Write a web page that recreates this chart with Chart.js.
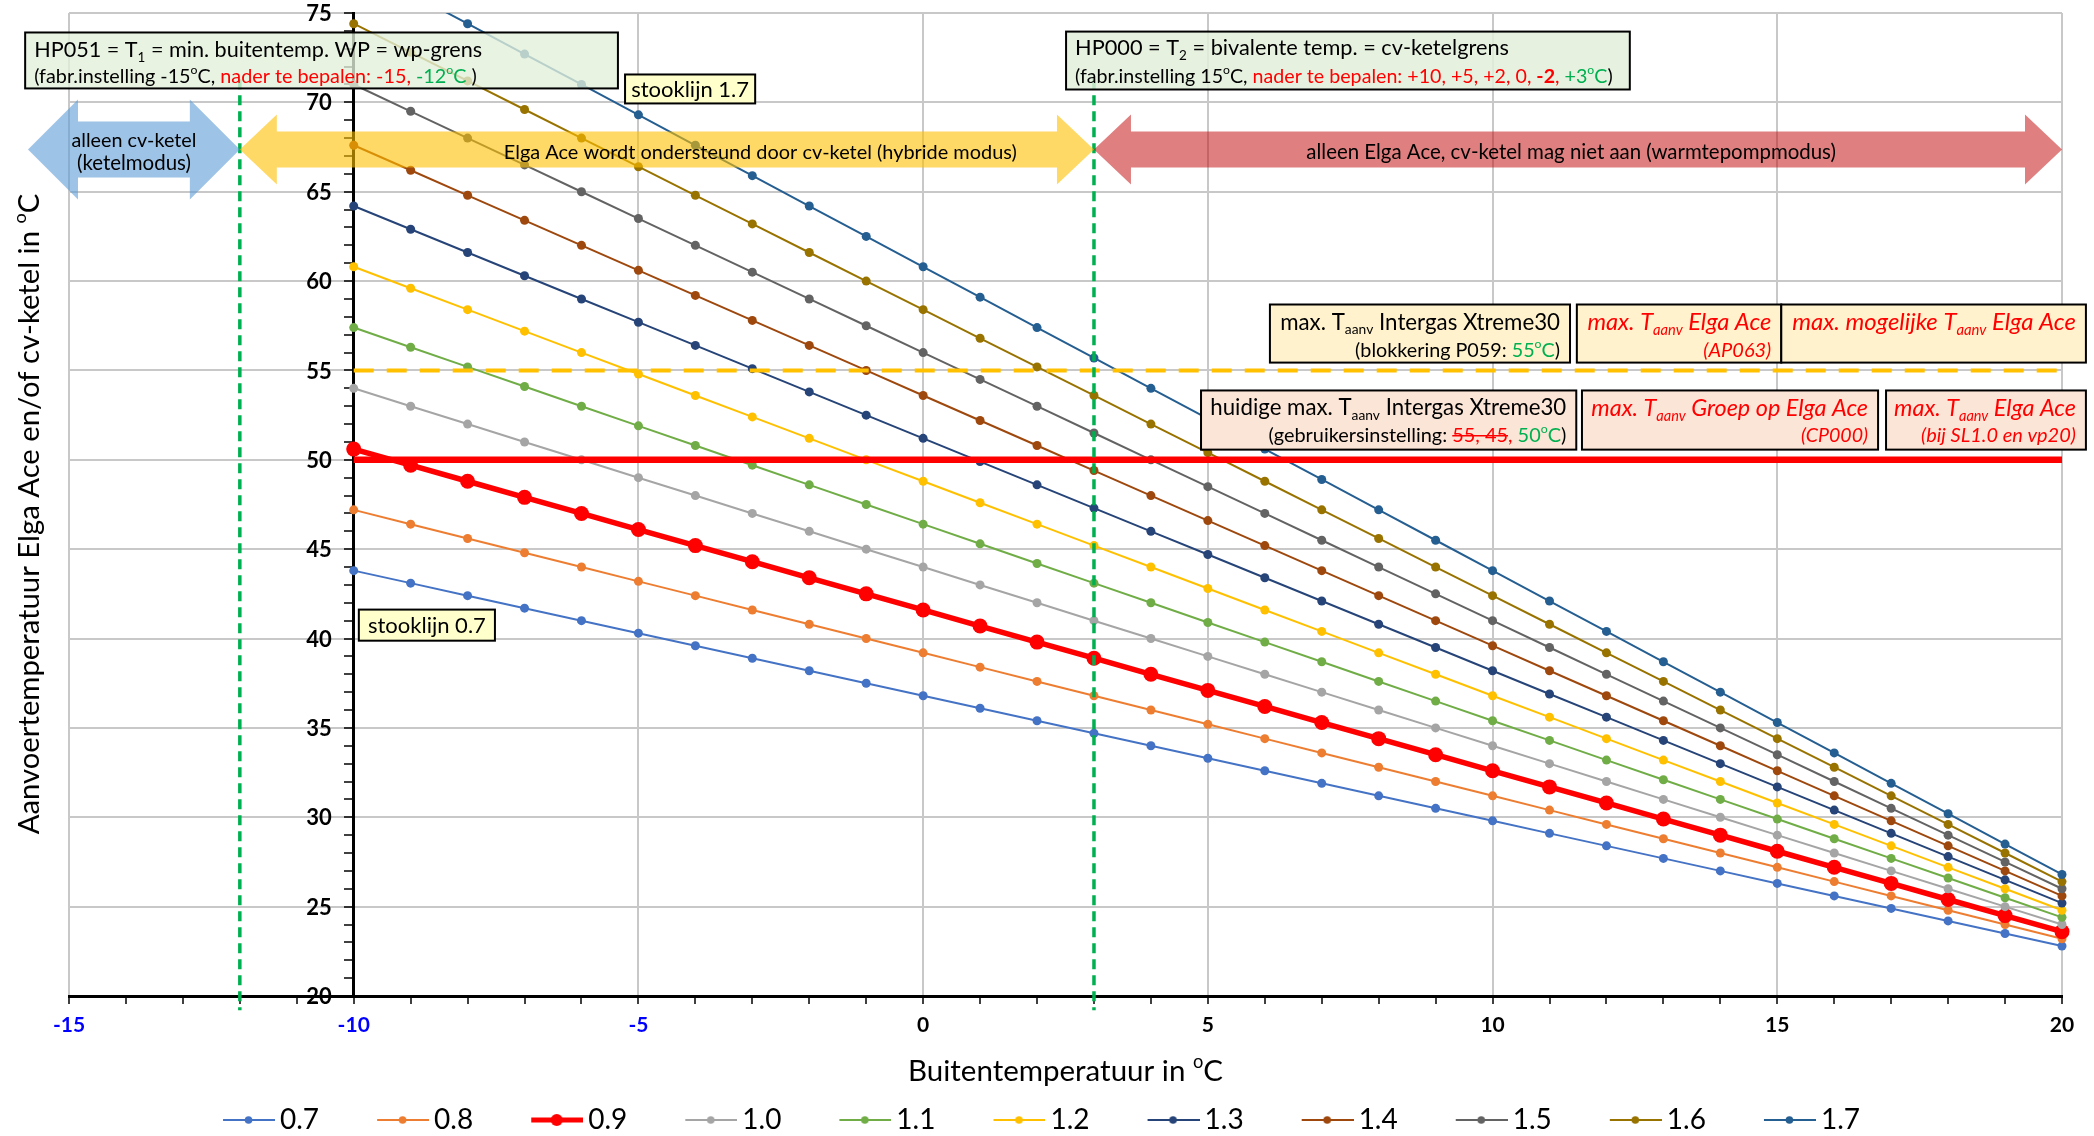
<!DOCTYPE html>
<html lang="nl">
<head>
<meta charset="utf-8">
<title>Stooklijnen Elga Ace</title>
<script src="https://cdn.jsdelivr.net/npm/chart.js@4.4.1/dist/chart.umd.min.js"></script>
<style>
  html, body { margin: 0; padding: 0; background: #fff; }
  canvas { display: block; }
</style>
</head>
<body>
<canvas id="stooklijnen" width="2094" height="1136"></canvas>
<script>
// buitentemperatuur (x-as) en aanvoertemperatuur per stooklijn
const outdoorTemp = [-10, -9, -8, -7, -6, -5, -4, -3, -2, -1, 0, 1, 2, 3, 4, 5, 6, 7, 8, 9, 10, 11, 12, 13, 14, 15, 16, 17, 18, 19, 20];
const curveLabels = ['0.7', '0.8', '0.9', '1.0', '1.1', '1.2', '1.3', '1.4', '1.5', '1.6', '1.7'];

const sl07 = [43.8, 43.1, 42.4, 41.7, 41.0, 40.3, 39.6, 38.9, 38.2, 37.5, 36.8, 36.1, 35.4, 34.7, 34.0, 33.3, 32.6, 31.9, 31.2, 30.5, 29.8, 29.1, 28.4, 27.7, 27.0, 26.3, 25.6, 24.9, 24.2, 23.5, 22.8];
const sl08 = [47.2, 46.4, 45.6, 44.8, 44.0, 43.2, 42.4, 41.6, 40.8, 40.0, 39.2, 38.4, 37.6, 36.8, 36.0, 35.2, 34.4, 33.6, 32.8, 32.0, 31.2, 30.4, 29.6, 28.8, 28.0, 27.2, 26.4, 25.6, 24.8, 24.0, 23.2];
const sl09 = [50.6, 49.7, 48.8, 47.9, 47.0, 46.1, 45.2, 44.3, 43.4, 42.5, 41.6, 40.7, 39.8, 38.9, 38.0, 37.1, 36.2, 35.3, 34.4, 33.5, 32.6, 31.7, 30.8, 29.9, 29.0, 28.1, 27.2, 26.3, 25.4, 24.5, 23.6];
const sl10 = [54.0, 53.0, 52.0, 51.0, 50.0, 49.0, 48.0, 47.0, 46.0, 45.0, 44.0, 43.0, 42.0, 41.0, 40.0, 39.0, 38.0, 37.0, 36.0, 35.0, 34.0, 33.0, 32.0, 31.0, 30.0, 29.0, 28.0, 27.0, 26.0, 25.0, 24.0];
const sl11 = [57.4, 56.3, 55.2, 54.1, 53.0, 51.9, 50.8, 49.7, 48.6, 47.5, 46.4, 45.3, 44.2, 43.1, 42.0, 40.9, 39.8, 38.7, 37.6, 36.5, 35.4, 34.3, 33.2, 32.1, 31.0, 29.9, 28.8, 27.7, 26.6, 25.5, 24.4];
const sl12 = [60.8, 59.6, 58.4, 57.2, 56.0, 54.8, 53.6, 52.4, 51.2, 50.0, 48.8, 47.6, 46.4, 45.2, 44.0, 42.8, 41.6, 40.4, 39.2, 38.0, 36.8, 35.6, 34.4, 33.2, 32.0, 30.8, 29.6, 28.4, 27.2, 26.0, 24.8];
const sl13 = [64.2, 62.9, 61.6, 60.3, 59.0, 57.7, 56.4, 55.1, 53.8, 52.5, 51.2, 49.9, 48.6, 47.3, 46.0, 44.7, 43.4, 42.1, 40.8, 39.5, 38.2, 36.9, 35.6, 34.3, 33.0, 31.7, 30.4, 29.1, 27.8, 26.5, 25.2];
const sl14 = [67.6, 66.2, 64.8, 63.4, 62.0, 60.6, 59.2, 57.8, 56.4, 55.0, 53.6, 52.2, 50.8, 49.4, 48.0, 46.6, 45.2, 43.8, 42.4, 41.0, 39.6, 38.2, 36.8, 35.4, 34.0, 32.6, 31.2, 29.8, 28.4, 27.0, 25.6];
const sl15 = [71.0, 69.5, 68.0, 66.5, 65.0, 63.5, 62.0, 60.5, 59.0, 57.5, 56.0, 54.5, 53.0, 51.5, 50.0, 48.5, 47.0, 45.5, 44.0, 42.5, 41.0, 39.5, 38.0, 36.5, 35.0, 33.5, 32.0, 30.5, 29.0, 27.5, 26.0];
const sl16 = [74.4, 72.8, 71.2, 69.6, 68.0, 66.4, 64.8, 63.2, 61.6, 60.0, 58.4, 56.8, 55.2, 53.6, 52.0, 50.4, 48.8, 47.2, 45.6, 44.0, 42.4, 40.8, 39.2, 37.6, 36.0, 34.4, 32.8, 31.2, 29.6, 28.0, 26.4];
const sl17 = [77.8, 76.1, 74.4, 72.7, 71.0, 69.3, 67.6, 65.9, 64.2, 62.5, 60.8, 59.1, 57.4, 55.7, 54.0, 52.3, 50.6, 48.9, 47.2, 45.5, 43.8, 42.1, 40.4, 38.7, 37.0, 35.3, 33.6, 31.9, 30.2, 28.5, 26.8];

const maxIntergas = 55;   // blokkering P059
const maxCurrent = 50;    // gebruikersinstelling
const t1Limit = -12;      // HP051
const t2Bivalent = 3;     // HP000
const yAxisAt = -10;      // y-as snijdt bij -10 graden

const xTickLabels = [-15, -10, -5, 0, 5, 10, 15, 20];
const yTickLabels = [20, 25, 30, 35, 40, 45, 50, 55, 60, 65, 70, 75];

const curves = [sl07, sl08, sl09, sl10, sl11, sl12, sl13, sl14, sl15, sl16, sl17];
const curveColors = ['#4472C4', '#ED7D31', '#FF0000', '#A5A5A5', '#70AD47', '#FFC000', '#264478', '#9E480E', '#636363', '#997300', '#255E91'];

const FONT = 'Lato, "Open Sans", sans-serif';
const RED = '#FF0000';
const GRN = '#00B050';

// tekstfragmenten (sub/superscript, kleur, cursief)
const t = (s, o) => Object.assign({ t: s }, o || {});
const RI = { c: RED, italic: true };
const RIS = { c: RED, italic: true, sub: true };
const deg = (c) => [t('o', { sup: true, c: c }), t('C', { c: c })];

function legendIcon(color, lw, r) {
  const c = document.createElement('canvas');
  c.width = 61; c.height = 24;
  const g = c.getContext('2d');
  g.strokeStyle = color;
  g.lineWidth = lw;
  g.beginPath(); g.moveTo(9, 12); g.lineTo(61, 12); g.stroke();
  g.fillStyle = color;
  g.beginPath(); g.arc(34.5, 12, r, 0, Math.PI * 2); g.fill();
  return c;
}
const icons = curveColors.map((col, i) => curveLabels[i] === '0.9' ? legendIcon(col, 5, 6) : legendIcon(col, 2, 3.8));

const datasets = curves.map((vals, i) => {
  const thick = curveLabels[i] === '0.9';
  return {
    label: curveLabels[i],
    data: outdoorTemp.map((tx, j) => ({ x: tx, y: vals[j] })),
    borderColor: curveColors[i],
    backgroundColor: curveColors[i],
    borderWidth: thick ? 5.5 : 2,
    pointRadius: thick ? 7.5 : 4.5,
    pointBorderWidth: 0,
    yAxisID: 'y',
    order: 30 - i,
    clip: { left: 12, top: 0, right: 12, bottom: 12 }
  };
});
const xFirst = outdoorTemp[0], xLast = outdoorTemp[outdoorTemp.length - 1];
datasets.push(
  { label: 'max55', data: [{ x: xFirst, y: maxIntergas }, { x: xLast, y: maxIntergas }], borderColor: '#FFC000', borderWidth: 4, borderDash: [20, 13], pointRadius: 0, yAxisID: 'y', order: 2 },
  { label: 'max50', data: [{ x: xFirst, y: maxCurrent }, { x: xLast, y: maxCurrent }], borderColor: '#FF0000', borderWidth: 6.5, pointRadius: 0, yAxisID: 'y', order: 1 },
  { label: 'HP051', data: [{ x: t1Limit, y: 71.3 }, { x: t1Limit, y: 19.2 }], borderColor: GRN, borderWidth: 3.5, borderDash: [10, 6], pointRadius: 0, yAxisID: 'y', clip: false, order: 0 },
  { label: 'HP000', data: [{ x: t2Bivalent, y: 71.3 }, { x: t2Bivalent, y: 19.2 }], borderColor: GRN, borderWidth: 3.5, borderDash: [10, 6], pointRadius: 0, yAxisID: 'y', clip: false, order: 0 }
);

// pijlen en tekstvakken (w = doelbreedte van de tekstregel in px)
const arrows = [
  { from: -15.72, to: t1Limit, y: 67.36, head: 50, headHalf: 50, shaftHalf: 28, fill: 'rgba(91,155,213,0.6)', textX: null,
    lines: [[t('alleen cv-ketel')], [t('(ketelmodus)')]], offs: [-10, 13], w: [125, 114] },
  { from: t1Limit, to: t2Bivalent, y: 67.36, head: 37, headHalf: 35, shaftHalf: 18, fill: 'rgba(255,192,0,0.6)', textX: -2.86,
    lines: [[t('Elga Ace wordt ondersteund door cv-ketel (hybride modus)')]], offs: [2], w: [513] },
  { from: t2Bivalent, to: 20, y: 67.36, head: 37, headHalf: 35, shaftHalf: 18, fill: 'rgba(192,0,0,0.5)', textX: 11.38,
    lines: [[t('alleen Elga Ace, cv-ketel mag niet aan (warmtepompmodus)')]], offs: [2], w: [530] }
];

const notes = [
  { x1: -15.77, x2: -5.36, y1: 73.91, y2: 70.78, fill: 'rgba(226,239,218,0.78)', align: 'left', sizes: [20, 17], offs: [17, 43], w: [448, 443],
    lines: [
      [t('HP051 = T'), t('1', { sub: true }), t(' = min. buitentemp. WP = wp-grens')],
      [t('(fabr.instelling -15'), ...deg(), t(', '), t('nader te bepalen: -15, ', { c: RED }), t('-12', { c: GRN }), ...deg(GRN), t(' )')]
    ] },
  { x1: -5.235, x2: -2.95, y1: 71.56, y2: 69.94, fill: '#FFFFCC', align: 'center', sizes: [19], offs: [null], w: [118],
    lines: [[t('stooklijn 1.7')]] },
  { x1: 2.51, x2: 12.41, y1: 73.96, y2: 70.72, fill: 'rgba(226,239,218,0.85)', align: 'left', sizes: [20, 17], offs: [16, 44], w: [434, 538],
    lines: [
      [t('HP000 = T'), t('2', { sub: true }), t(' = bivalente temp. = cv-ketelgrens')],
      [t('(fabr.instelling 15'), ...deg(), t(', '), t('nader te bepalen: +10, +5, +2, 0, ', { c: RED }), t('-2', { c: RED, bold: true }), t(', ', { c: RED }), t('+3', { c: GRN }), ...deg(GRN), t(')')]
    ] },
  { x1: 6.09, x2: 11.36, y1: 58.69, y2: 55.44, fill: '#FFF2CC', align: 'right', sizes: [20, 17], offs: [17, 45], w: [280, 205],
    lines: [
      [t('max. T'), t('aanv', { sub: true }), t(' Intergas Xtreme30')],
      [t('(blokkering P059: '), t('55', { c: GRN }), ...deg(GRN), t(')')]
    ] },
  { x1: 11.48, x2: 15.07, y1: 58.69, y2: 55.44, fill: '#FFF2CC', align: 'right', sizes: [20, 17], offs: [17, 45], w: [184, 68],
    lines: [
      [t('max. T', RI), t('aanv', RIS), t(' Elga Ace', RI)],
      [t('(AP063)', RI)]
    ] },
  { x1: 15.07, x2: 20.42, y1: 58.69, y2: 55.44, fill: '#FFF2CC', align: 'right', sizes: [20], offs: [17], w: [284],
    lines: [[t('max. mogelijke T', RI), t('aanv', RIS), t(' Elga Ace', RI)]] },
  { x1: 4.88, x2: 11.47, y1: 53.88, y2: 50.57, fill: '#FBE5D6', align: 'right', sizes: [20, 17], offs: [17, 44], w: [356, 298],
    lines: [
      [t('huidige max. T'), t('aanv', { sub: true }), t(' Intergas Xtreme30')],
      [t('(gebruikersinstelling: '), t('55, 45', { c: RED, strike: true }), t(', ', { c: RED }), t('50', { c: GRN }), ...deg(GRN), t(')')]
    ] },
  { x1: 11.57, x2: 16.77, y1: 53.88, y2: 50.57, fill: '#FBE5D6', align: 'right', sizes: [20, 17], offs: [17, 44], w: [277, 67],
    lines: [
      [t('max. T', RI), t('aanv', RIS), t(' Groep op Elga Ace', RI)],
      [t('(CP000)', RI)]
    ] },
  { x1: 16.91, x2: 20.42, y1: 53.88, y2: 50.57, fill: '#FBE5D6', align: 'right', sizes: [20, 17], offs: [17, 44], w: [182, 155],
    lines: [
      [t('max. T', RI), t('aanv', RIS), t(' Elga Ace', RI)],
      [t('(bij SL1.0 en vp20)', RI)]
    ] },
  { x1: -9.91, x2: -7.52, y1: 41.62, y2: 39.88, fill: '#FFFFCC', align: 'center', sizes: [19], offs: [null], w: [118],
    lines: [[t('stooklijn 0.7')]] }
];

function runParts(ctx, runs, size) {
  return runs.map(r => {
    const s = (r.sub || r.sup) ? size * 0.62 : size;
    const font = (r.italic ? 'italic ' : '') + (r.bold ? 'bold ' : '') + s + 'px ' + FONT;
    ctx.font = font;
    return { r: r, font: font, w: ctx.measureText(r.t).width };
  });
}

// tekst met opmaakfragmenten; optioneel geschaald naar een doelbreedte
function drawRich(ctx, runs, x, y, align, size, target) {
  let parts = runParts(ctx, runs, size);
  let total = parts.reduce((a, p) => a + p.w, 0);
  if (target) {
    size = size * target / total;
    parts = runParts(ctx, runs, size);
    total = parts.reduce((a, p) => a + p.w, 0);
  }
  let cx = align === 'right' ? x - total : align === 'center' ? x - total / 2 : x;
  const base = y + size * 0.36;
  ctx.textBaseline = 'alphabetic';
  ctx.textAlign = 'left';
  parts.forEach(p => {
    ctx.font = p.font;
    ctx.fillStyle = p.r.c || '#000';
    let by = base;
    if (p.r.sub) by = base + size * 0.2;
    if (p.r.sup) by = base - size * 0.42;
    ctx.fillText(p.r.t, cx, by);
    if (p.r.strike) {
      ctx.strokeStyle = p.r.c || '#000';
      ctx.lineWidth = 1.5;
      ctx.beginPath();
      ctx.moveTo(cx, base - size * 0.3);
      ctx.lineTo(cx + p.w, base - size * 0.3);
      ctx.stroke();
    }
    cx += p.w;
  });
  return total;
}

function doubleArrow(ctx, x1, x2, cy, head, hh, sh, fill) {
  ctx.beginPath();
  ctx.moveTo(x1, cy);
  ctx.lineTo(x1 + head, cy - hh);
  ctx.lineTo(x1 + head, cy - sh);
  ctx.lineTo(x2 - head, cy - sh);
  ctx.lineTo(x2 - head, cy - hh);
  ctx.lineTo(x2, cy);
  ctx.lineTo(x2 - head, cy + hh);
  ctx.lineTo(x2 - head, cy + sh);
  ctx.lineTo(x1 + head, cy + sh);
  ctx.lineTo(x1 + head, cy + hh);
  ctx.closePath();
  ctx.fillStyle = fill;
  ctx.fill();
}

const overlay = {
  id: 'overlay',
  beforeDatasetsDraw(chart) {
    // y-waarden links van de as bij -10 graden
    const { ctx, scales: { x, y } } = chart;
    const ax = x.getPixelForValue(yAxisAt);
    ctx.save();
    ctx.font = 'bold 22px ' + FONT;
    ctx.fillStyle = '#000';
    ctx.textAlign = 'right';
    ctx.textBaseline = 'middle';
    yTickLabels.forEach(v => ctx.fillText(String(v), ax - 22, y.getPixelForValue(v) + 1));
    ctx.restore();
  },
  afterDatasetsDraw(chart) {
    const { ctx, scales: { x, y } } = chart;
    const px = v => x.getPixelForValue(v);
    const py = v => y.getPixelForValue(v);
    ctx.save();
    arrows.forEach(a => {
      const x1 = px(a.from), x2 = px(a.to), cy = py(a.y);
      doubleArrow(ctx, x1, x2, cy, a.head, a.headHalf, a.shaftHalf, a.fill);
      const tx = a.textX === null ? (x1 + x2) / 2 : px(a.textX);
      a.lines.forEach((ln, i) => drawRich(ctx, ln, tx, cy + a.offs[i], 'center', 19, a.w[i]));
    });
    notes.forEach(n => {
      const l = px(n.x1), r = px(n.x2), top = py(n.y1), bot = py(n.y2);
      ctx.fillStyle = n.fill;
      ctx.fillRect(l, top, r - l, bot - top);
      ctx.strokeStyle = '#000';
      ctx.lineWidth = 2;
      ctx.strokeRect(l, top, r - l, bot - top);
      n.lines.forEach((ln, i) => {
        const ty = n.offs[i] === null ? (top + bot) / 2 : top + n.offs[i];
        const tx = n.align === 'left' ? l + 9 : n.align === 'right' ? r - 10 : (l + r) / 2;
        drawRich(ctx, ln, tx, ty, n.align, n.sizes[i], n.w[i]);
      });
    });
    ctx.restore();
  },
  afterDraw(chart) {
    const { ctx, chartArea } = chart;
    ctx.save();
    drawRich(ctx, [t('Buitentemperatuur in '), ...deg()], (chartArea.left + chartArea.right) / 2, 1070, 'center', 26, 315);
    ctx.translate(28, 514);
    ctx.rotate(-Math.PI / 2);
    drawRich(ctx, [t('Aanvoertemperatuur Elga Ace en/of cv-ketel in '), ...deg()], 0, 0, 'center', 26, 641);
    ctx.restore();
  }
};

const gridColor = c => (c.tick && c.tick.value % 5 === 0) ? '#C8C8C8' : 'rgba(0,0,0,0)';
const legendDefaults = Chart.registry.getPlugin('legend').defaults.labels;

new Chart(document.getElementById('stooklijnen').getContext('2d'), {
  type: 'line',
  data: { datasets: datasets },
  options: {
    responsive: false,
    devicePixelRatio: 1,
    animation: false,
    events: [],
    layout: { padding: { top: 13, right: 32, bottom: -8, left: 21 } },
    scales: {
      x: {
        type: 'linear',
        min: -15,
        max: 20,
        ticks: {
          stepSize: 1,
          autoSkip: false,
          maxRotation: 0,
          padding: 9,
          callback: v => xTickLabels.includes(v) ? String(v) : '',
          color: c => c.tick.value < 0 ? '#0000FF' : '#000',
          font: { family: FONT, weight: 'bold', size: 21 }
        },
        grid: { color: gridColor, lineWidth: 2, tickColor: '#000', tickLength: 8, tickWidth: 1.5 },
        border: { color: '#000', width: 3 },
        afterFit(s) { s.height = 52; }
      },
      y: {
        type: 'linear',
        position: { x: yAxisAt },
        min: 20,
        max: 75,
        ticks: { stepSize: 1, autoSkip: false, display: false },
        grid: { color: gridColor, lineWidth: 2, tickColor: '#000', tickLength: 8, tickWidth: 1.5 },
        border: { color: '#000', width: 3 }
      },
      yPad: {
        type: 'linear',
        position: 'left',
        display: true,
        grid: { display: false },
        border: { display: false },
        ticks: { display: false },
        afterFit(s) { s.width = 48; }
      }
    },
    plugins: {
      title: { display: false },
      tooltip: { enabled: false },
      legend: {
        position: 'bottom',
        labels: {
          usePointStyle: true,
          pointStyleWidth: 43,
          padding: 58,
          color: '#000',
          font: { family: FONT, size: 28 },
          sort: (a, b) => a.datasetIndex - b.datasetIndex,
          filter: item => item.datasetIndex < curveLabels.length,
          generateLabels(chart) {
            const items = legendDefaults.generateLabels(chart);
            items.forEach(it => {
              if (it.datasetIndex < icons.length) it.pointStyle = icons[it.datasetIndex];
            });
            return items;
          }
        }
      }
    }
  },
  plugins: [overlay]
});
</script>
</body>
</html>
